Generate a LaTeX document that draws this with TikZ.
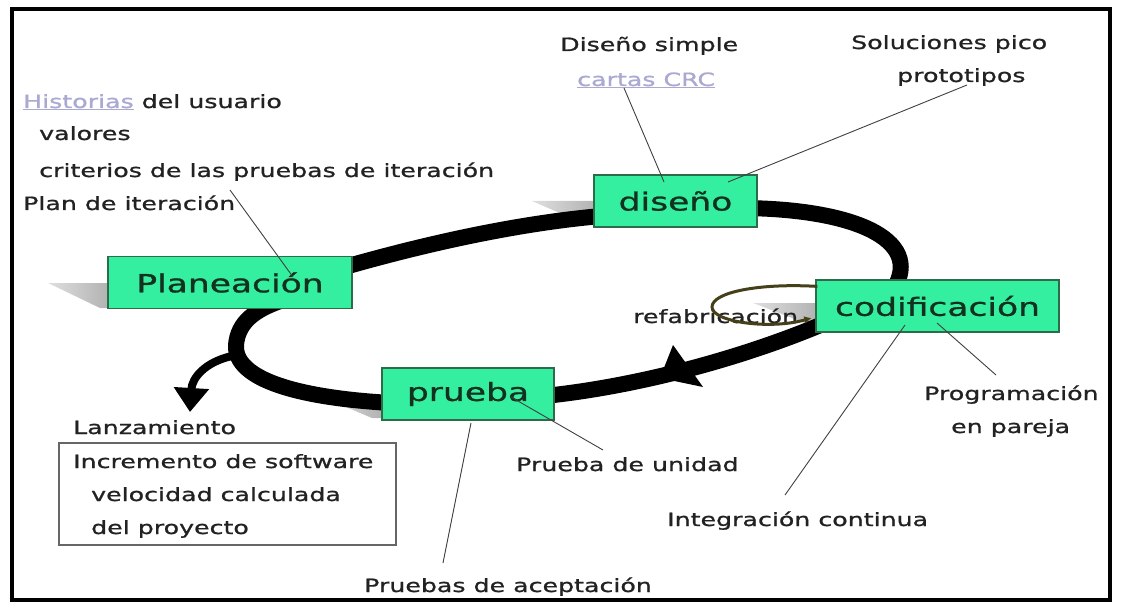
\documentclass[tikz,border=0pt]{standalone}
\usepackage{fontspec}
\setmainfont{DejaVu Sans}[FakeStretch=1.38, FakeBold=1]
\usetikzlibrary{arrows.meta}
\usetikzlibrary{calc}
\usetikzlibrary{backgrounds}

\definecolor{boxgreen}{HTML}{35EFA0}
\definecolor{boxedge}{HTML}{2E6B4A}
\definecolor{stagetext}{HTML}{14301F}
\definecolor{labeltext}{HTML}{222222}
\definecolor{linkcolor}{HTML}{A9A9D2}
\definecolor{loopcolor}{HTML}{45401A}

\tikzset{
  stage/.style={draw=boxedge, fill=boxgreen, line width=1.2pt, inner sep=0pt,
    minimum height=52pt, font=\fontsize{25}{30}\selectfont, text=stagetext},
  lbl/.style={inner sep=0pt, anchor=base west, font=\fontsize{18.3}{22}\selectfont, text=labeltext},
  leader/.style={line width=0.9pt, draw=black!75},
  band/.style={line width=\bandwidth, black},
  wedge/.style={left color=gray!25, right color=gray!60, draw=none}
}

\begin{document}
\begin{tikzpicture}[>= latex, x=1pt, y=-1pt]

\def\bandwidth{16pt}
\def\branchwidth{8pt}

\useasboundingbox (0,0) rectangle (1121,604);

% marco
\draw[line width=4pt] (12,9) rectangle (1110,600);

% etapas del ciclo
\node[stage, minimum width=244pt] (plan) at (230,282.5) {Planeación};
\node[stage, minimum width=163pt] (dis) at (675.5,201) {diseño};
\node[stage, minimum width=243pt] (cod) at (937.5,306) {codificación};
\node[stage, minimum width=172pt] (prue) at (468,394) {prueba};

% textos
\node[lbl] (hist) at (23,108) {\textcolor{linkcolor}{\underline{Historias}} del usuario};
\node[lbl] (valores) at (39,140) {valores};
\node[lbl] (crit) at (39,177) {criterios de las pruebas de iteración};
\node[lbl] (plantext) at (23,210) {Plan de iteración};

\node[lbl] (dsimple) at (560,51) {Diseño simple};
\node[lbl] (cartas) at (577,86) {\textcolor{linkcolor}{\underline{cartas CRC}}};
\node[lbl] (soluc) at (851,49) {Soluciones pico};
\node[lbl] (proto) at (897,82) {prototipos};

\node[lbl] (refab) at (633,323) {refabricación};
\node[lbl] (prog) at (924,400) {Programación};
\node[lbl] (pareja) at (951,433) {en pareja};
\node[lbl] (unidad) at (516,471) {Prueba de unidad};
\node[lbl] (integ) at (667,526) {Integración continua};
\node[lbl] (acep) at (364,592) {Pruebas de aceptación};

\node[lbl] (lanz) at (73,434) {Lanzamiento};
\node[draw=black!60, line width=1.2pt, minimum width=337pt, minimum height=102pt, inner sep=0pt] (incbox) at (227.5,494) {};
\node[lbl] (incr) at (73,468) {Incremento de software};
\node[lbl] (veloc) at (91,501) {velocidad calculada};
\node[lbl] (proy) at (91,534) {del proyecto};

% puntos de las lineas
\coordinate (critfoot) at (230,190);
\coordinate (plantip) at (293,277);
\coordinate (cartasfoot) at (624,88);
\coordinate (distipa) at (664,182);
\coordinate (protofoot) at (967,85);
\coordinate (distipb) at (728,182);
\coordinate (codtipa) at (937,323);
\coordinate (progtop) at (996,375);
\coordinate (codtipb) at (905,325);
\coordinate (integtop) at (785,495);
\coordinate (pruetipa) at (511,397);
\coordinate (unidadtop) at (603,450);
\coordinate (pruetipb) at (471,423);
\coordinate (aceptop) at (443,563);
\coordinate (lanzfork) at (232,356);
\coordinate (lanztip) at (190,412);

\draw[leader] (critfoot) -- (plantip);
\draw[leader] (cartasfoot) -- (distipa);
\draw[leader] (protofoot) -- (distipb);
\draw[leader] (codtipa) -- (progtop);
\draw[leader] (codtipb) -- (integtop);
\draw[leader] (pruetipa) -- (unidadtop);
\draw[leader] (pruetipb) -- (aceptop);

% refabricacion
\draw[loopcolor, line width=3pt, -{Latex[length=7pt,width=8pt]}] ($(cod.north west)+(2,7)$) .. controls (760,283) and (712,292) .. (712,307) .. controls (712,322) and (770,330) .. ($(cod.west)+(-4,12)$);

\begin{pgfonlayer}{background}
% sombras
\shade[wedge] (48,283) -- (108,283) -- (108,308) -- (100,308) -- cycle;
\shade[wedge] (532,201) -- (595,201) -- (595,224) -- (585,224) -- cycle;
\shade[wedge] (753,303) -- (817,303) -- (817,323) -- (805,323) -- cycle;
\shade[wedge] (322,397) -- (382,397) -- (382,418) -- (372,418) -- cycle;

% ciclo
\draw[band] ($(plan.east)+(-20,-12)$) .. controls (420,245) and (520,222) .. ($(dis.west)+(20,14)$);
\draw[band] ($(dis.east)+(-20,7)$) .. controls (850,208) and (925,238) .. ($(cod.north)+(-44,10)$);
\draw[band] ($(cod.south west)+(20,-14)$) .. controls (760,352) and (650,385) .. ($(prue.east)+(-10,2)$);
\draw[band] ($(prue.west)+(10,9)$) .. controls (300,398) and (234,380) .. (236,345) .. controls (238,322) and (255,310) .. ($(plan.south)+(50,-8)$);
\fill (673,345) -- (660,378) -- (703,387) -- cycle;

% lanzamiento
\draw[line width=\branchwidth, -{Triangle[width=34pt,length=24pt]}] (lanzfork) .. controls (205,362) and (192,378) .. (lanztip);
\end{pgfonlayer}

\end{tikzpicture}
\end{document}
